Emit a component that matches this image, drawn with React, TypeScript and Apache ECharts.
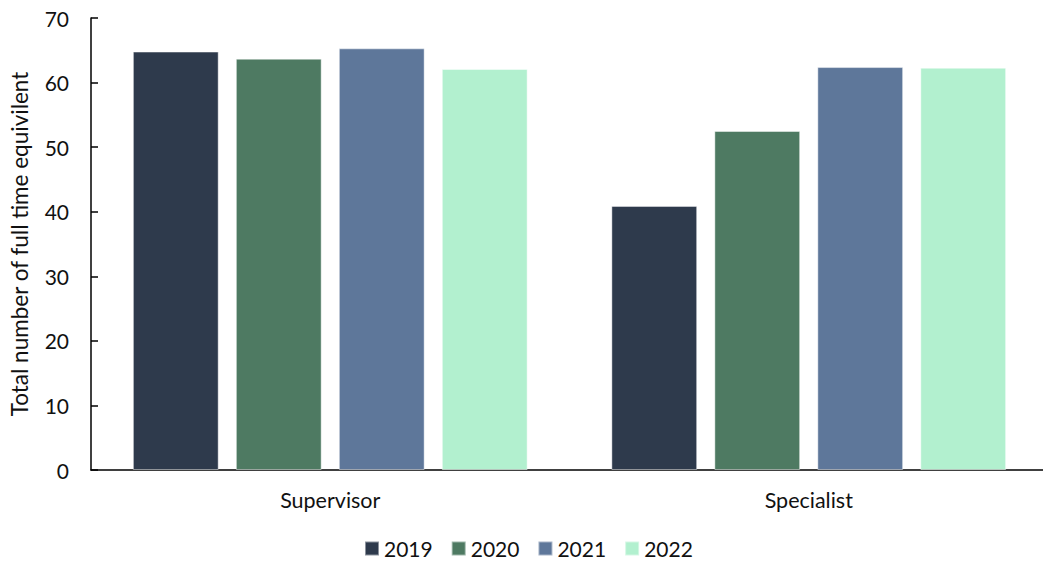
import React, { useEffect, useRef } from "react";
import * as echarts from "echarts";

const categories = ["Supervisor", "Specialist"];
const years = ["2019", "2020", "2021", "2022"];
const values2019 = [64.8, 40.9];
const values2020 = [63.7, 52.5];
const values2021 = [65.3, 62.4];
const values2022 = [62.1, 62.3];
const colors = ["#2E3A4C", "#4E7A62", "#5E779A", "#B2F0CF"];
const yTicks = { min: 0, max: 70, interval: 10 };

const FONT = "Lato, 'Open Sans', sans-serif";

export default function App() {
  const ref = useRef<HTMLDivElement>(null);
  useEffect(() => {
    document.body.style.margin = "0";
    document.body.style.overflow = "hidden";
    if (!ref.current) return;
    const chart = echarts.init(ref.current, null, { renderer: "svg" });
    const seriesData = [values2019, values2020, values2021, values2022];
    chart.setOption({
      animation: false,
      textStyle: { fontFamily: FONT },
      grid: { left: 90, top: 18, width: 958, height: 452, containLabel: false },
      legend: {
        bottom: 2,
        left: 359,
        itemWidth: 14,
        itemHeight: 14,
        itemGap: 18,
        icon: "rect",
        textStyle: { fontFamily: FONT, fontSize: 21, color: "#111" },
        data: years,
      },
      xAxis: {
        type: "category",
        data: categories,
        axisLine: { lineStyle: { color: "#000", width: 1.5 } },
        axisTick: { show: false },
        axisLabel: { fontFamily: FONT, fontSize: 21.5, color: "#111", margin: 19 },
      },
      yAxis: {
        type: "value",
        min: yTicks.min,
        max: yTicks.max,
        interval: yTicks.interval,
        name: "Total number of full time equivilent",
        nameLocation: "middle",
        nameGap: 60,
        nameTextStyle: { fontFamily: FONT, fontSize: 22.5, color: "#111" },
        axisLine: { show: true, lineStyle: { color: "#000", width: 1.5 } },
        axisTick: { show: true, inside: true, length: 7, lineStyle: { color: "#000", width: 1.5 } },
        splitLine: { show: false },
        axisLabel: { fontFamily: FONT, fontSize: 21, color: "#111", margin: 22 },
      },
      series: years.map((y, i) => ({
        name: y,
        type: "bar",
        data: seriesData[i],
        barGap: "20%",
        barCategoryGap: "17.5%",
        itemStyle: {
          color: colors[i],
          borderColor: "rgba(255,255,255,0.45)",
          borderWidth: 1,
        },
      })),
    });
    return () => chart.dispose();
  }, []);
  return (
    <div style={{ width: 1043, height: 566, overflow: "hidden" }}>
      <div ref={ref} style={{ width: 1060, height: 566 }} />
    </div>
  );
}
